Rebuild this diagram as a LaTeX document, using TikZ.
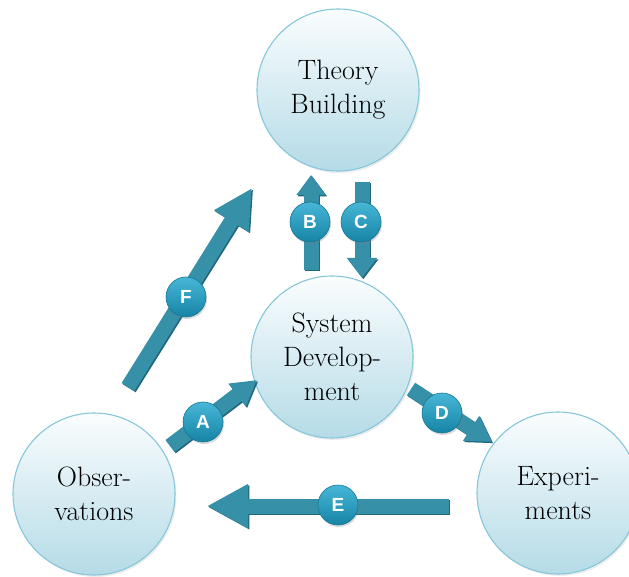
\documentclass[tikz,border=0pt]{standalone}
\usepackage{fontspec}
\newfontfamily\badgefont{Liberation Sans}
\usetikzlibrary{arrows.meta,shadows,calc}
\definecolor{arrowc}{HTML}{3590A8}
\definecolor{arrowd}{HTML}{21687C}
\definecolor{circtop}{HTML}{FAFDFE}
\definecolor{circbot}{HTML}{B5DBE7}
\definecolor{circedge}{HTML}{86C7DA}
\definecolor{badgetop}{HTML}{48B7D7}
\definecolor{badgebot}{HTML}{1684A4}
\definecolor{badgeedge}{HTML}{157793}
\begin{document}
\begin{tikzpicture}[x=1pt,y=1pt,
  topic/.style={circle, minimum size=162pt, inner sep=0pt, draw=circedge, line width=1.1pt,
    top color=circtop, bottom color=circbot, align=center,
    font=\fontsize{28}{34}\selectfont,
    drop shadow={opacity=0.15, shadow xshift=1.5pt, shadow yshift=-2pt}},
  badge/.style={circle, minimum size=40pt, inner sep=0pt, draw=badgeedge, line width=0.6pt,
    top color=badgetop, bottom color=badgebot, text=white,
    font=\badgefont\bfseries\fontsize{19}{19}\selectfont,
    drop shadow={opacity=0.3, shadow xshift=1pt, shadow yshift=-2pt}},
  fat/.style n args={2}{line width=15pt, draw=arrowc, -{Triangle[width=#1pt, length=#2pt]}},
  fatshade/.style n args={2}{line width=15pt, draw=arrowd, -{Triangle[width=#1pt, length=#2pt]},
    transform canvas={shift={(1.3pt,-1.3pt)}}}
]
\useasboundingbox (0,0) rectangle (629,576);

% topic circles
\node[topic] (theory) at (338,486) {Theory\\Building};
\node[topic] (sysdev) at (332,219) {System\\Develop-\\ment};
\node[topic] (obs) at (94,82) {Obser-\\vations};
\node[topic] (exp) at (558,83) {Experi-\\ments};

% arrow end points
\coordinate (Atail) at (170,130); \coordinate (Atip) at (257,196);
\coordinate (Btail) at (311,306); \coordinate (Btip) at (311,401);
\coordinate (Ctail) at (362,394); \coordinate (Ctip) at (362,298);
\coordinate (Dtail) at (411,187); \coordinate (Dtip) at (492,134);
\coordinate (Etail) at (449,70);  \coordinate (Etip) at (207,70);
\coordinate (Ftail) at (128,189); \coordinate (Ftip) at (252,388);

% arrow shadows
\draw[fatshade={27}{25}] (Atail) -- (Atip);
\draw[fatshade={28}{20}] (Btail) -- (Btip);
\draw[fatshade={29}{20}] (Ctail) -- (Ctip);
\draw[fatshade={28}{25}] (Dtail) -- (Dtip);
\draw[fatshade={41}{41}] (Etail) -- (Etip);
\draw[fatshade={38}{39}] (Ftail) -- (Ftip);
% arrows
\draw[fat={27}{25}] (Atail) -- (Atip);
\draw[fat={28}{20}] (Btail) -- (Btip);
\draw[fat={29}{20}] (Ctail) -- (Ctip);
\draw[fat={28}{25}] (Dtail) -- (Dtip);
\draw[fat={41}{41}] (Etail) -- (Etip);
\draw[fat={38}{39}] (Ftail) -- (Ftip);

% badges
\node[badge] (bA) at (203,154) {A};
\node[badge] (bB) at (310,354) {B};
\node[badge] (bC) at (361,354) {C};
\node[badge] (bD) at (442,163) {D};
\node[badge] (bE) at (338,71) {E};
\node[badge] (bF) at (186,279) {F};
\end{tikzpicture}
\end{document}
